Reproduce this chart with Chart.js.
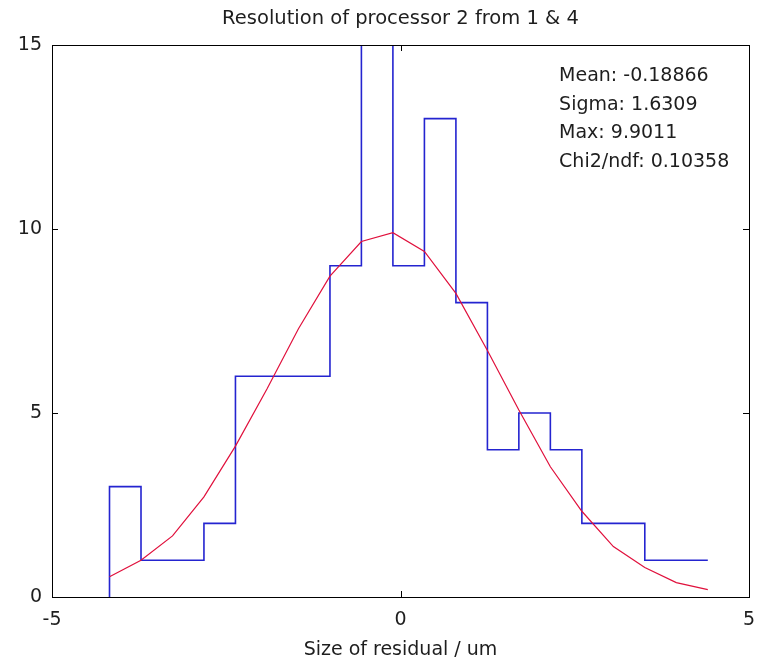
<!DOCTYPE html>
<html>
<head>
<meta charset="utf-8">
<script src="https://cdn.jsdelivr.net/npm/chart.js@4.4.1/dist/chart.umd.min.js"></script>
<style>
  html, body { margin: 0; padding: 0; background: #ffffff; }
  #wrap { width: 761px; height: 665px; }
</style>
</head>
<body>
<div id="wrap"><canvas id="c" width="761" height="665"></canvas></div>
<script>
// ---- Data ----
const titleText = 'Resolution of processor 2 from 1 & 4';
const xAxisLabel = 'Size of residual / um';
const xTicks = [-5, 0, 5];
const yTicks = [0, 5, 10, 15];

// histogram bin edges (20 edges, 19 bins)
const binEdges = [-4.175, -3.723, -3.271, -2.820, -2.368, -1.916, -1.464, -1.012, -0.561, -0.109,
                  0.343, 0.795, 1.247, 1.698, 2.150, 2.602, 3.054, 3.505, 3.957, 4.409];
// counts per bin
const binCounts = [3, 1, 1, 2, 6, 6, 6, 9, 16, 9, 13, 8, 4, 5, 4, 2, 2, 1, 1];

// fitted gaussian sampled at the bin edges
const fitValues = [0.55, 1.0, 1.66, 2.72, 4.1, 5.65, 7.29, 8.72, 9.66, 9.9,
                   9.39, 8.25, 6.7, 5.08, 3.54, 2.33, 1.37, 0.8, 0.39, 0.2];

const statLines = ['Mean: -0.18866', 'Sigma: 1.6309', 'Max: 9.9011', 'Chi2/ndf: 0.10358'];

// ---- Build datasets ----
const histPoints = [{x: binEdges[0], y: 0}];
for (let i = 0; i < binCounts.length; i++) histPoints.push({x: binEdges[i], y: binCounts[i]});
histPoints.push({x: binEdges[binEdges.length - 1], y: binCounts[binCounts.length - 1]});

const fitPoints = binEdges.map((e, i) => ({x: e, y: fitValues[i]}));

const FONT = 'DejaVu Sans';
const TXT = '#1e1e1e';

const frameAndTicks = {
  id: 'frameAndTicks',
  afterDatasetsDraw(chart) {
    const {ctx, chartArea: a, scales: {x, y}} = chart;
    ctx.save();
    ctx.strokeStyle = '#000000';
    ctx.lineWidth = 1;
    const L = 6;
    ctx.beginPath();
    xTicks.forEach(v => {
      const px = Math.round(x.getPixelForValue(v)) + 0.5;
      ctx.moveTo(px, a.bottom); ctx.lineTo(px, a.bottom - L);
      ctx.moveTo(px, a.top); ctx.lineTo(px, a.top + L);
    });
    yTicks.forEach(v => {
      const py = Math.round(y.getPixelForValue(v)) + 0.5;
      ctx.moveTo(a.left, py); ctx.lineTo(a.left + L, py);
      ctx.moveTo(a.right, py); ctx.lineTo(a.right - L, py);
    });
    ctx.stroke();
    ctx.strokeRect(Math.round(a.left) + 0.5, Math.round(a.top) + 0.5,
                   Math.round(a.right - a.left), Math.round(a.bottom - a.top));
    // statistics box text
    ctx.fillStyle = TXT;
    ctx.font = '19px "' + FONT + '"';
    ctx.textAlign = 'left';
    ctx.textBaseline = 'alphabetic';
    const tx = a.left + (a.right - a.left) * 0.7275;
    statLines.forEach((s, i) => ctx.fillText(s, tx, a.top + 36 + i * 28.7));
    ctx.restore();
  }
};

function zeroPad(s) { s.paddingLeft = 0; s.paddingRight = 0; s.paddingTop = 0; s.paddingBottom = 0; }

new Chart(document.getElementById('c'), {
  type: 'line',
  data: {
    datasets: [
      {
        label: 'fit',
        data: fitPoints,
        borderColor: '#e0103c',
        borderWidth: 1.2,
        pointRadius: 0,
        tension: 0,
        fill: false
      },
      {
        label: 'histogram',
        data: histPoints,
        borderColor: '#2424d0',
        borderWidth: 1.6,
        pointRadius: 0,
        stepped: true,
        fill: false
      }
    ]
  },
  options: {
    responsive: false,
    animation: false,
    devicePixelRatio: 1,
    layout: { padding: { left: 0, right: 12, top: 0, bottom: 0 } },
    plugins: {
      legend: { display: false },
      tooltip: { enabled: false },
      title: {
        display: true,
        fullSize: false,
        text: titleText,
        color: TXT,
        font: { family: FONT, size: 19.5, weight: 'normal' },
        padding: { top: 7, bottom: 14.6 }
      }
    },
    scales: {
      x: {
        type: 'linear',
        min: -5, max: 5,
        afterBuildTicks(s) { s.ticks = xTicks.map(v => ({value: v})); },
        afterFit(s) { s.height = 68; zeroPad(s); },
        grid: { display: false, drawTicks: false },
        border: { display: false },
        ticks: { color: TXT, font: { family: FONT, size: 19 }, padding: 12, maxRotation: 0 },
        title: { display: true, text: xAxisLabel, color: TXT, font: { family: FONT, size: 19 }, padding: { top: 0, bottom: 4 } }
      },
      y: {
        type: 'linear',
        min: 0, max: 15,
        afterBuildTicks(s) { s.ticks = yTicks.map(v => ({value: v})); },
        afterFit(s) { s.width = 52; zeroPad(s); },
        grid: { display: false, drawTicks: false },
        border: { display: false },
        ticks: { color: TXT, font: { family: FONT, size: 19 }, padding: 10 }
      }
    }
  },
  plugins: [frameAndTicks]
});
</script>
</body>
</html>
